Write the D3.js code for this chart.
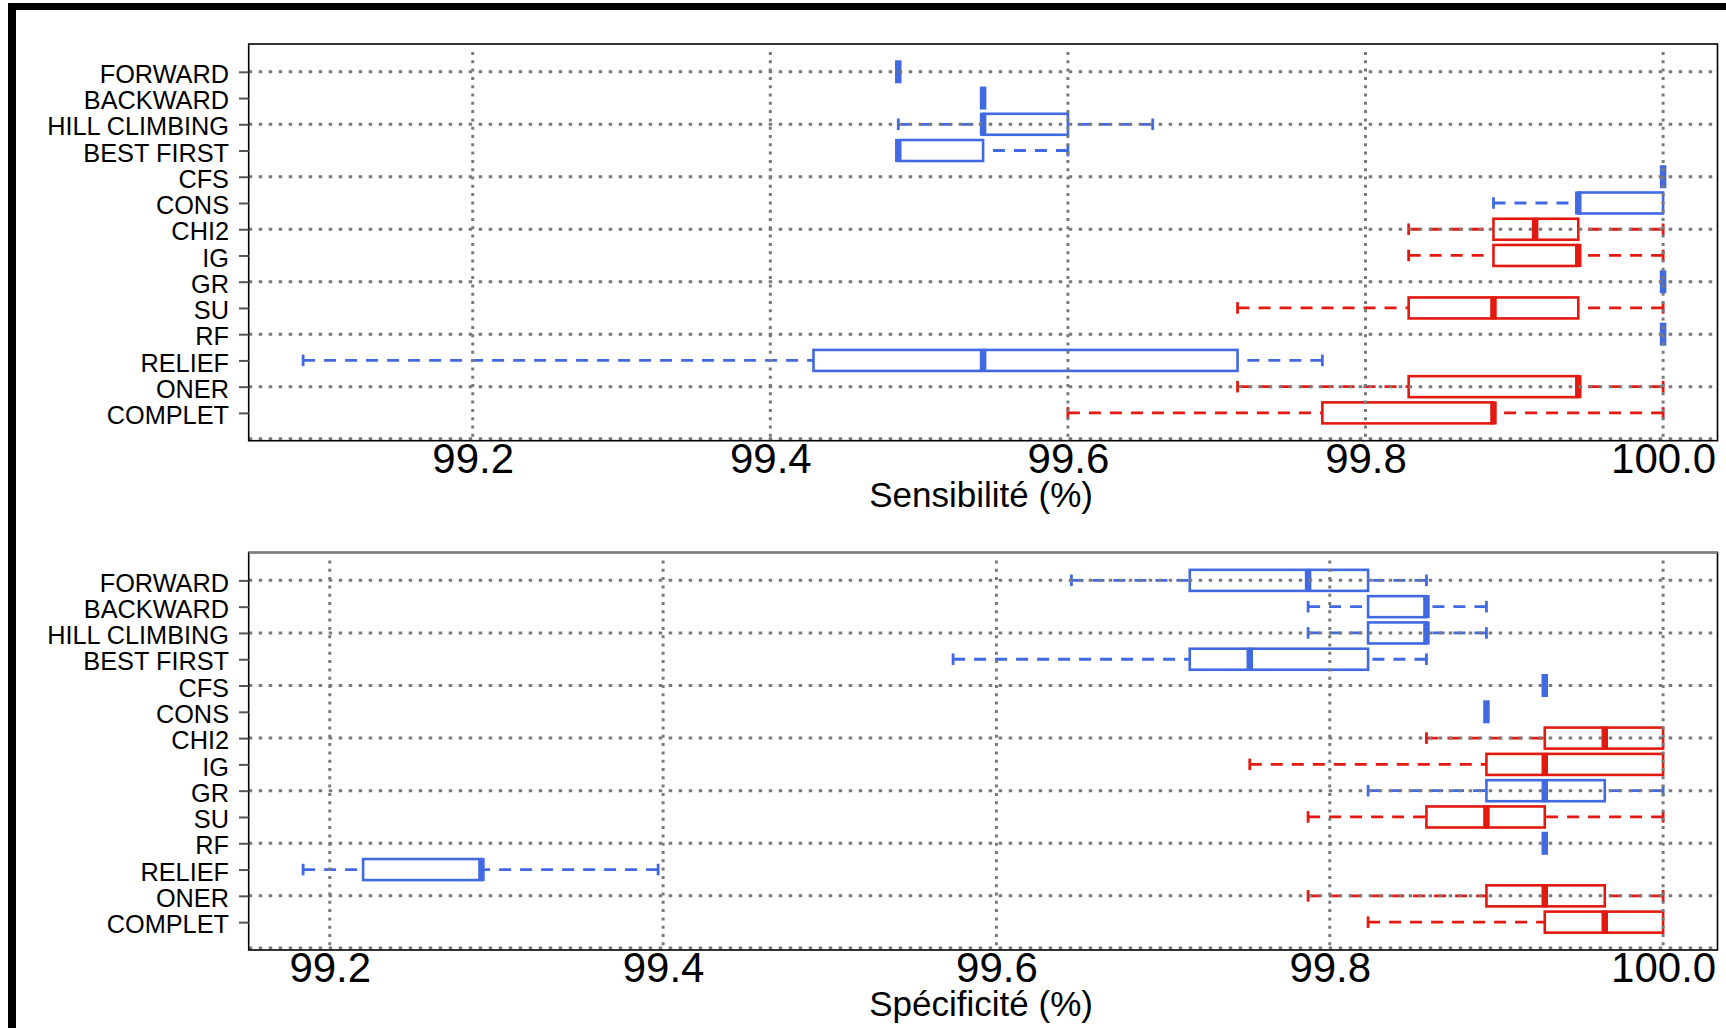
<!DOCTYPE html>
<html>
<head>
<meta charset="utf-8">
<script src="https://cdn.jsdelivr.net/npm/d3@7"></script>
<style>
  body { margin: 0; background: #fff; }
  svg { display: block; font-family: "Liberation Sans", Arial, sans-serif; }
</style>
</head>
<body>
<svg id="chart" width="1726" height="1028"></svg>
<script>
// methods, top to bottom
var methods = ["FORWARD", "BACKWARD", "HILL CLIMBING", "BEST FIRST", "CFS", "CONS",
  "CHI2", "IG", "GR", "SU", "RF", "RELIEF", "ONER", "COMPLET"];
// W = wrapper-like (blue), F = filter-like (red)
var methodType = ["W", "W", "W", "W", "W", "W", "F", "F", "W", "F", "W", "W", "F", "F"];

// Sensibilité (%)
var sensMin = [99.486, 99.543, 99.486, 99.486, 100, 99.886, 99.829, 99.829, 100, 99.714, 100, 99.086, 99.714, 99.600];
var sensQ1  = [99.486, 99.543, 99.543, 99.486, 100, 99.943, 99.886, 99.886, 100, 99.829, 100, 99.429, 99.829, 99.771];
var sensMed = [99.486, 99.543, 99.543, 99.486, 100, 99.943, 99.914, 99.943, 100, 99.886, 100, 99.543, 99.943, 99.886];
var sensQ3  = [99.486, 99.543, 99.600, 99.543, 100, 100, 99.943, 99.943, 100, 99.943, 100, 99.714, 99.943, 99.886];
var sensMax = [99.486, 99.543, 99.657, 99.600, 100, 100, 100, 100, 100, 100, 100, 99.771, 100, 100];

// Spécificité (%)
var specMin = [99.645, 99.787, 99.787, 99.574, 99.929, 99.894, 99.858, 99.752, 99.823, 99.787, 99.929, 99.184, 99.787, 99.823];
var specQ1  = [99.716, 99.823, 99.823, 99.716, 99.929, 99.894, 99.929, 99.894, 99.894, 99.858, 99.929, 99.220, 99.894, 99.929];
var specMed = [99.787, 99.858, 99.858, 99.752, 99.929, 99.894, 99.965, 99.929, 99.929, 99.894, 99.929, 99.291, 99.929, 99.965];
var specQ3  = [99.823, 99.858, 99.858, 99.823, 99.929, 99.894, 100, 100, 99.965, 99.929, 99.929, 99.291, 99.965, 100];
var specMax = [99.858, 99.894, 99.894, 99.858, 99.929, 99.894, 100, 100, 100, 100, 99.929, 99.397, 100, 100];

var xTicks = [99.2, 99.4, 99.6, 99.8, 100.0];

var color = d3.scaleOrdinal().domain(["W", "F"]).range(["#4169e1", "#e3190f"]);

var svg = d3.select("#chart");

// outer frame (top and left only, as in the cropped figure)
svg.append("rect").attr("x", 8).attr("y", 3).attr("width", 1718).attr("height", 7).attr("fill", "#000");
svg.append("rect").attr("x", 8).attr("y", 3).attr("width", 8).attr("height", 1025).attr("fill", "#000");

function drawPanel(opts) {
  var left = 248.7, right = 1717.5, top = opts.top, bottom = opts.bottom;
  var mins = opts.min, maxs = opts.max;

  // R-like 4% padding on the data range
  var lo = d3.min(mins), hi = d3.max(maxs), pad = (hi - lo) * 0.04;
  var x = d3.scaleLinear().domain([lo - pad, hi + pad]).range([left, right]);
  var y = d3.scaleLinear().domain([-0.06, methods.length + 1.06]).range([bottom, top]);
  var pos = function(i) { return y(methods.length - i); };
  var unit = y(0) - y(1);
  var boxH = unit * 0.8, stapH = boxH * 0.55;

  var g = svg.append("g");

  // boxes
  methods.forEach(function(m, i) {
    var c = color(methodType[i]);
    var cy = pos(i);
    var bg = g.append("g");
    // whiskers, drawn from the extreme towards the box
    if (opts.min[i] < opts.q1[i]) {
      bg.append("line").attr("x1", x(opts.min[i])).attr("x2", x(opts.q1[i]))
        .attr("y1", cy).attr("y2", cy)
        .attr("stroke", c).attr("stroke-width", 2.8).attr("stroke-dasharray", "12,9");
      bg.append("line").attr("x1", x(opts.min[i])).attr("x2", x(opts.min[i]))
        .attr("y1", cy - stapH / 2).attr("y2", cy + stapH / 2)
        .attr("stroke", c).attr("stroke-width", 2.8);
    }
    if (opts.max[i] > opts.q3[i]) {
      bg.append("line").attr("x1", x(opts.max[i])).attr("x2", x(opts.q3[i]))
        .attr("y1", cy).attr("y2", cy)
        .attr("stroke", c).attr("stroke-width", 2.8).attr("stroke-dasharray", "12,9");
      bg.append("line").attr("x1", x(opts.max[i])).attr("x2", x(opts.max[i]))
        .attr("y1", cy - stapH / 2).attr("y2", cy + stapH / 2)
        .attr("stroke", c).attr("stroke-width", 2.8);
    }
    bg.append("rect")
      .attr("x", x(opts.q1[i])).attr("y", cy - boxH / 2)
      .attr("width", x(opts.q3[i]) - x(opts.q1[i])).attr("height", boxH)
      .attr("fill", "none").attr("stroke", c).attr("stroke-width", 2.6);
    bg.append("line").attr("x1", x(opts.med[i])).attr("x2", x(opts.med[i]))
      .attr("y1", cy - boxH / 2 - 1).attr("y2", cy + boxH / 2 + 1)
      .attr("stroke", c).attr("stroke-width", 6.5);
  });

  // grid (drawn over the boxes, as in R's grid())
  var grid = g.append("g").attr("stroke", "#7a7a7a").attr("stroke-width", 3);
  methods.forEach(function(m, i) {
    if (i % 2 == 0) {
      grid.append("line").attr("x1", left).attr("x2", right)
        .attr("y1", pos(i)).attr("y2", pos(i)).attr("stroke-dasharray", "3.5,6.5");
    }
  });
  grid.append("line").attr("x1", left).attr("x2", right)
    .attr("y1", bottom - 2).attr("y2", bottom - 2).attr("stroke-dasharray", "3.5,6.5");
  xTicks.forEach(function(t) {
    grid.append("line").attr("x1", x(t)).attr("x2", x(t))
      .attr("y1", top + 8).attr("y2", bottom).attr("stroke-dasharray", "3,5.3");
  });

  // panel border
  g.append("rect").attr("x", left).attr("y", top).attr("width", right - left).attr("height", bottom - top)
    .attr("fill", "none").attr("stroke", "#000").attr("stroke-width", 1.6);
  if (opts.grayTop) {
    g.append("line").attr("x1", left).attr("x2", right).attr("y1", top).attr("y2", top)
      .attr("stroke", "#808080").attr("stroke-width", 2.4);
  }

  // y axis: method names
  var yAxis = g.append("g").attr("transform", "translate(" + left + ",0)")
    .call(d3.axisLeft(y).tickValues(d3.range(1, methods.length + 1))
      .tickFormat(function(d) { return methods[methods.length - d]; })
      .tickSize(9.7).tickPadding(10));
  yAxis.select(".domain").remove();
  yAxis.selectAll(".tick line").attr("stroke", "#555").attr("stroke-width", 2);
  yAxis.selectAll(".tick text").attr("font-size", 25.3).attr("fill", "#000")
    .attr("font-family", "Liberation Sans, Arial, sans-serif").attr("dy", "0.42em");

  // x axis: values
  var xAxis = g.append("g").attr("transform", "translate(0," + bottom + ")")
    .call(d3.axisBottom(x).tickValues(xTicks).tickFormat(d3.format(".1f")).tickSize(0).tickPadding(2));
  xAxis.select(".domain").remove();
  xAxis.selectAll(".tick text").attr("font-size", 42).attr("fill", "#000")
    .attr("font-family", "Liberation Sans, Arial, sans-serif");

  g.append("text").attr("x", (left + right) / 2 - 2).attr("y", bottom + 66)
    .attr("text-anchor", "middle").attr("font-size", 35).attr("fill", "#000")
    .text(opts.title);
}

drawPanel({ top: 44, bottom: 440.7, title: "Sensibilité (%)",
  min: sensMin, q1: sensQ1, med: sensMed, q3: sensQ3, max: sensMax, grayTop: false });
drawPanel({ top: 552.5, bottom: 950, title: "Spécificité (%)",
  min: specMin, q1: specQ1, med: specMed, q3: specQ3, max: specMax, grayTop: true });
</script>
</body>
</html>
